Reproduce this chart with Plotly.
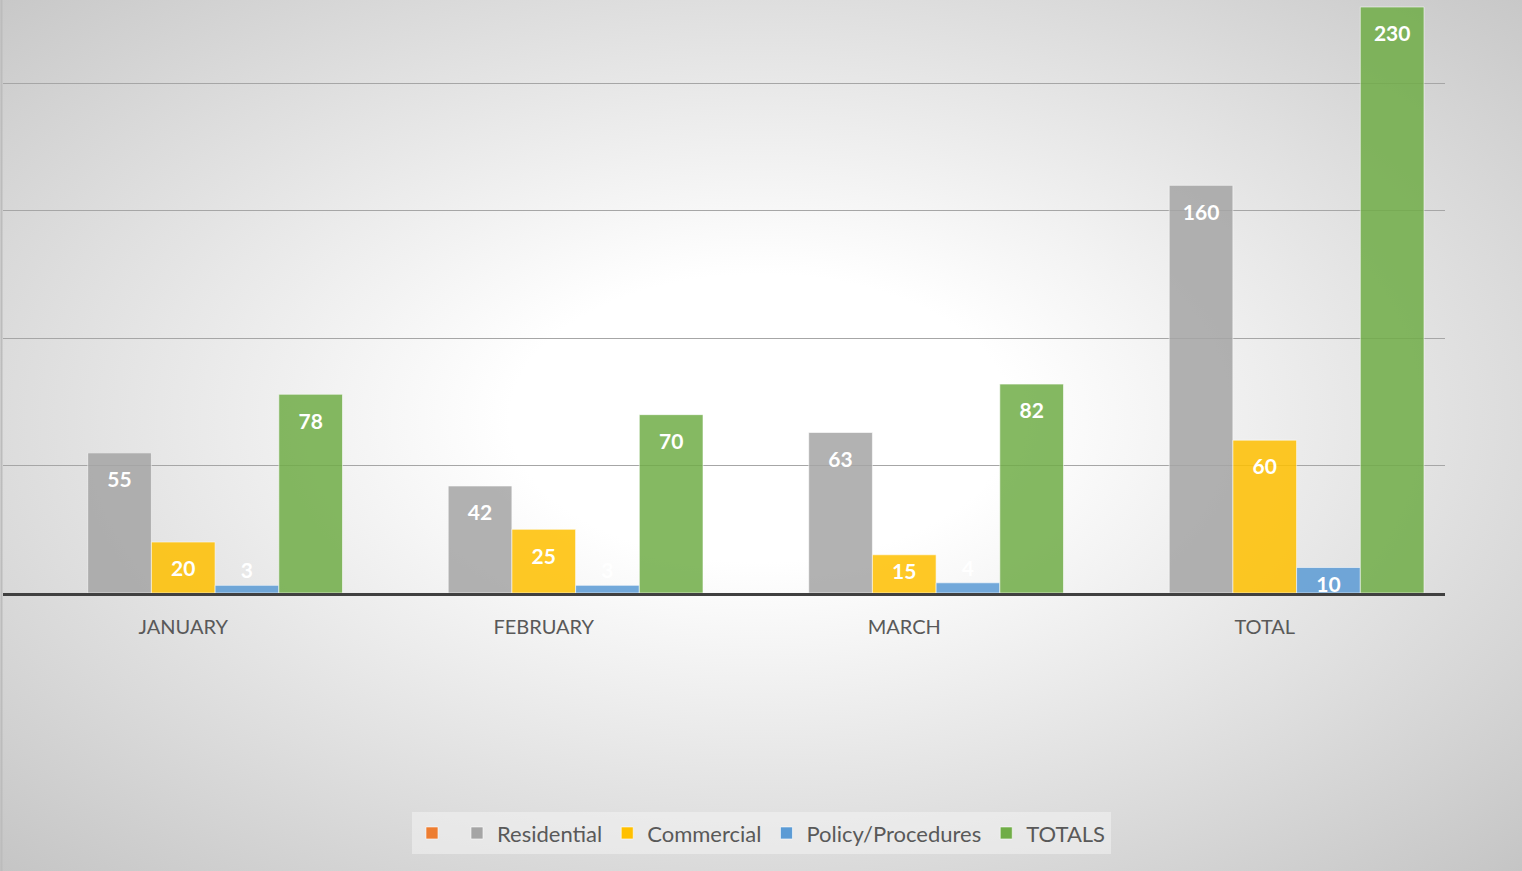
import base64
import plotly.graph_objects as go

categories = ["JANUARY", "FEBRUARY", "MARCH", "TOTAL"]
blank_series = [None, None, None, None]
residential = [55, 42, 63, 160]
commercial = [20, 25, 15, 60]
policy = [3, 3, 4, 10]
totals = [78, 70, 82, 230]

W, H = 1522, 871
ML, MR, MT, MB = 3, 77, 0, 278
PW, PH = W - ML - MR, H - MT - MB

svg = f'''<svg xmlns="http://www.w3.org/2000/svg" width="{W}" height="{H}" viewBox="0 0 {W} {H}" preserveAspectRatio="none">
<defs><radialGradient id="g" cx="0.5" cy="0.48" r="0.75">
<stop offset="0" stop-color="#ffffff"/><stop offset="0.22" stop-color="#ffffff"/>
<stop offset="1" stop-color="#c2c2c2"/></radialGradient></defs>
<rect x="0" y="0" width="{W}" height="{H}" fill="url(#g)"/>
<line x1="1.5" y1="0" x2="1.5" y2="{H}" stroke="#bcbcbc" stroke-width="2"/>
</svg>'''
src = "data:image/svg+xml;base64," + base64.b64encode(svg.encode()).decode()

fig = go.Figure()

series = [
    ("", blank_series, "#ed7d31"),
    ("Residential", residential, "#a5a5a5"),
    ("Commercial", commercial, "#ffc000"),
    ("Policy/Procedures", policy, "#5b9bd5"),
    ("TOTALS", totals, "#70ad47"),
]
lbl = dict(family="Lato", size=21, color="white", weight="bold")
SPACER = "<span style='font-size:4px'>&nbsp;</span><br>"


def label(v):
    if v is None:
        return ""
    return SPACER + str(v) if v >= 20 else str(v)


def position(v):
    return "inside" if (v is not None and v >= 10) else "outside"


for name, vals, col in series:
    fig.add_trace(go.Bar(
        x=categories, y=vals, name=name, text=[label(v) for v in vals],
        textposition=[position(v) for v in vals], insidetextanchor="end",
        constraintext="none", textangle=0,
        textfont=lbl, outsidetextfont=lbl, insidetextfont=lbl,
        marker=dict(color=col, opacity=0.85,
                    line=dict(color="rgba(255,255,255,0.6)", width=1)),
        cliponaxis=False, showlegend=True,
    ))

fig.update_layout(
    width=W, height=H,
    margin=dict(l=ML, r=MR, t=MT, b=MB),
    paper_bgcolor="rgba(0,0,0,0)", plot_bgcolor="rgba(0,0,0,0)",
    barmode="group", bargap=0.1165, bargroupgap=0,
    font=dict(family="Lato", color="#595959", size=20),
    images=[dict(source=src, xref="paper", yref="paper",
                 x=-ML / PW, y=1 + MT / PH, sizex=W / PW, sizey=H / PH,
                 xanchor="left", yanchor="top", sizing="stretch", layer="below")],
    legend=dict(orientation="h", x=0.526, xanchor="center", y=-0.405, yanchor="middle",
                bgcolor="rgba(245,245,245,0.5)", font=dict(size=22, color="#595959"),
                itemwidth=30, tracegroupgap=0),
    xaxis=dict(type="category", categoryorder="array", categoryarray=categories,
               showline=True, linecolor="#404040", linewidth=3, ticks="outside",
               ticklen=14, tickcolor="rgba(0,0,0,0)", tickfont=dict(size=20, color="#595959"),
               showgrid=False, zeroline=False),
    yaxis=dict(range=[0, 232.75], dtick=50, showticklabels=False, showgrid=True,
               gridcolor="#a6a6a6", gridwidth=1, zeroline=False, showline=False),
    showlegend=True,
)

fig.write_html("out.html", config={"displayModeBar": False},
               post_script="document.body.style.margin='0';document.body.style.overflow='hidden';")
